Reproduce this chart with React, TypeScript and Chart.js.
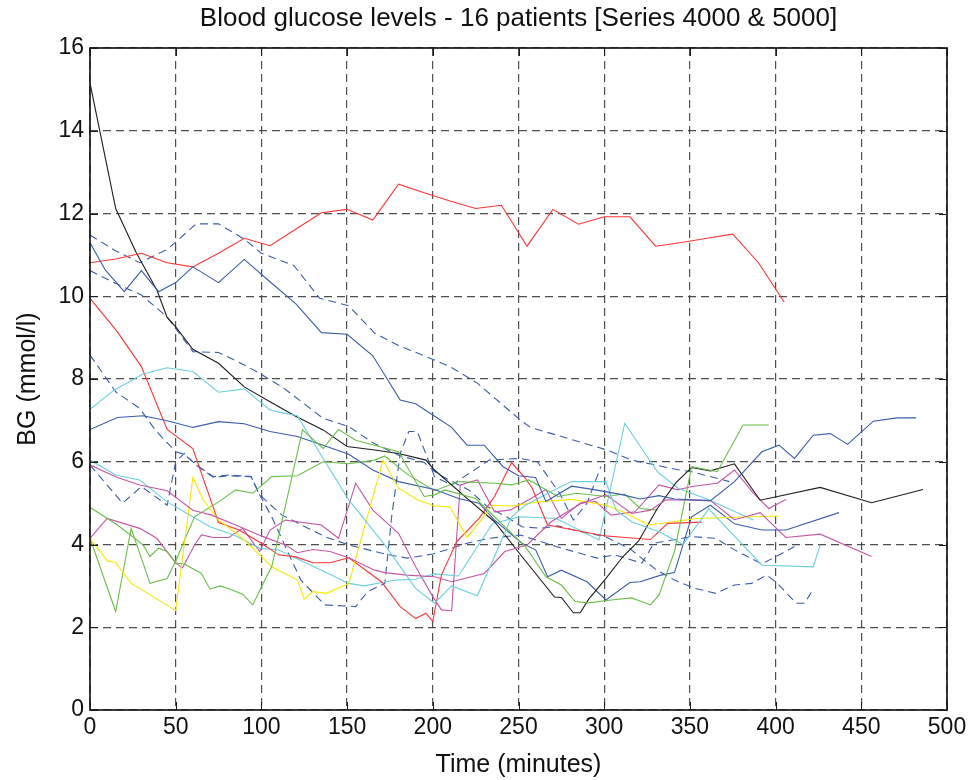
import React, { useEffect, useRef } from "react";
import { Chart, registerables } from "chart.js";

Chart.register(...registerables);

const TITLE = "Blood glucose levels - 16 patients [Series 4000 & 5000]";
const X_LABEL = "Time (minutes)";
const Y_LABEL = "BG (mmol/l)";
const X_TICKS = [0, 50, 100, 150, 200, 250, 300, 350, 400, 450, 500];
const Y_TICKS = [0, 2, 4, 6, 8, 10, 12, 14, 16];

// Patient series (time in minutes, BG in mmol/l)
const r1T = [0, 15, 30, 45, 60, 75, 90, 105, 120, 135, 150, 165, 180, 195, 210, 225, 240, 255, 270, 285, 300, 315, 330, 345, 360, 375, 390, 405];
const r1V = [10.81, 10.9, 11.04, 10.81, 10.71, 11.04, 11.4, 11.22, 11.62, 12.02, 12.1, 11.84, 12.71, 12.5, 12.3, 12.12, 12.2, 11.21, 12.1, 11.74, 11.92, 11.92, 11.21, 11.3, 11.4, 11.5, 10.81, 9.86];

const kT = [0, 15, 27, 39, 45, 50, 60, 75, 90, 105, 120, 136, 150, 165, 180, 196, 201, 221, 236, 252, 271, 275, 282, 286, 291, 301, 311, 320, 331, 342, 351, 362, 376, 391, 426, 456, 486];
const kV = [15.15, 12.12, 11.05, 10.15, 9.49, 9.26, 8.72, 8.38, 7.81, 7.45, 7.1, 6.77, 6.37, 6.29, 6.2, 6.04, 5.8, 5.08, 4.55, 3.71, 2.73, 2.72, 2.35, 2.35, 2.68, 3.18, 3.71, 4.08, 4.87, 5.5, 5.86, 5.78, 5.95, 5.07, 5.38, 5.01, 5.33];

const b1T = [0, 9, 20, 30, 40, 50, 60, 75, 90, 105, 120, 135, 150, 165, 181, 190, 200, 211, 220, 230, 241, 250, 260, 266, 281, 295, 311, 321, 332, 341, 362, 376, 392, 402, 411, 422, 432, 442, 457, 471, 482];
const b1V = [11.29, 10.63, 10.11, 10.62, 10.11, 10.33, 10.71, 10.33, 10.89, 10.35, 9.82, 9.12, 9.08, 8.56, 7.49, 7.4, 7.13, 6.83, 6.4, 6.4, 5.88, 5.66, 5.62, 5.04, 5.41, 5.32, 5.2, 5.1, 5.18, 5.1, 5.06, 5.52, 6.24, 6.4, 6.08, 6.64, 6.68, 6.42, 6.98, 7.06, 7.06];

const b2T = [0, 16, 31, 45, 60, 75, 90, 105, 121, 136, 151, 165, 180, 201, 215, 227, 236, 252, 260, 267, 275, 290, 301, 315, 321, 333, 341, 351, 362, 376, 392, 406, 437];
const b2V = [6.78, 7.07, 7.11, 6.99, 6.83, 6.97, 6.92, 6.73, 6.61, 6.4, 6.18, 5.8, 5.52, 5.33, 5.11, 5.0, 4.59, 4.03, 3.87, 3.22, 3.38, 3.1, 2.66, 3.08, 3.1, 3.26, 3.32, 4.67, 4.95, 4.5, 4.35, 4.35, 4.77];

const d1T = [0, 14, 29, 45, 62, 75, 90, 100, 119, 134, 151, 166, 180, 195, 210, 226, 251, 257, 302, 316, 344, 351, 373];
const d1V = [11.48, 11.12, 10.81, 11.13, 11.75, 11.75, 11.38, 11.04, 10.74, 9.95, 9.77, 9.11, 8.81, 8.56, 8.3, 7.9, 7.01, 6.83, 6.28, 6.04, 5.8, 5.76, 5.52];

const d2T = [0, 17, 30, 45, 60, 75, 90, 99, 114, 136, 151, 165, 180, 195, 203, 221, 232, 243, 252, 263, 273, 287, 300, 315, 330, 341, 353, 365, 376, 386, 395, 401, 412, 417, 421];
const d2V = [10.62, 10.27, 10.03, 9.5, 8.66, 8.64, 8.34, 8.14, 7.75, 7.05, 6.85, 6.46, 6.16, 5.98, 5.7, 5.32, 4.91, 4.67, 4.43, 4.39, 4.45, 4.3, 4.2, 3.9, 3.4, 3.14, 2.94, 2.82, 3.02, 3.06, 3.26, 3.06, 2.58, 2.58, 2.86];

const d3T = [0, 15, 29, 38, 50, 55, 62, 72, 81, 94, 99, 106, 123, 137, 155, 162, 172, 176, 181, 186, 191, 201, 211, 233, 251, 261, 274, 282, 290, 298];
const d3V = [8.58, 7.69, 7.29, 6.77, 6.24, 6.18, 5.92, 5.62, 5.66, 5.64, 5.2, 4.67, 3.14, 2.54, 2.5, 2.86, 3.06, 4.67, 6.2, 6.73, 6.73, 5.64, 5.44, 6.04, 6.08, 6.0, 5.24, 4.59, 5.0, 5.88];

const d4T = [0, 19, 30, 45, 50, 55, 62, 72, 81, 94, 98, 101, 112, 137, 151, 172, 185, 200, 220, 233, 251, 272, 296, 306, 322, 329, 351, 365, 376, 392, 403, 411];
const d4V = [5.92, 5.0, 5.4, 4.95, 6.0, 6.2, 5.92, 5.64, 5.68, 5.64, 5.28, 5.12, 4.71, 4.19, 3.99, 3.77, 3.67, 3.77, 4.03, 4.15, 4.23, 3.95, 3.67, 3.75, 3.55, 4.03, 4.19, 4.15, 3.87, 3.53, 3.77, 3.95];

const r2T = [0, 16, 30, 45, 60, 75, 87, 100, 110, 120, 130, 140, 151, 170, 181, 190, 196, 200, 205, 214, 227, 236, 246, 254, 258, 267, 300, 327, 337, 357];
const r2V = [9.95, 9.14, 8.3, 6.78, 6.32, 4.53, 4.35, 4.03, 3.75, 3.7, 3.56, 3.56, 3.68, 3.1, 2.5, 2.21, 2.34, 2.14, 3.26, 4.07, 4.63, 5.16, 5.98, 5.6, 5.36, 4.47, 4.21, 4.12, 4.51, 4.54];

const c1T = [0, 14, 31, 45, 60, 75, 90, 105, 114, 121, 136, 151, 172, 190, 201, 211, 226, 236, 246, 254, 270, 281, 301, 307, 316, 332, 346, 361, 392, 422, 426];
const c1V = [7.27, 7.73, 8.12, 8.27, 8.18, 7.68, 7.76, 7.25, 7.17, 7.11, 6.08, 5.08, 3.99, 2.94, 2.58, 3.0, 2.76, 3.71, 4.67, 4.95, 5.3, 5.52, 5.52, 4.83, 4.55, 4.31, 4.0, 4.86, 3.5, 3.46, 3.99];

const c2T = [0, 15, 29, 45, 60, 70, 84, 99, 110, 122, 135, 151, 160, 178, 190, 201, 215, 226, 235, 251, 272, 297, 312, 331, 343, 361, 387];
const c2V = [6.04, 5.68, 5.56, 5.03, 4.67, 4.43, 4.23, 3.91, 3.87, 3.63, 3.38, 3.06, 3.0, 3.14, 3.16, 3.29, 3.24, 3.95, 4.51, 4.67, 4.63, 4.11, 6.93, 5.76, 5.36, 5.08, 4.59];

const m1T = [0, 16, 29, 45, 60, 71, 85, 101, 114, 121, 130, 140, 151, 166, 172, 185, 201, 211, 230, 242, 255, 269, 280, 287, 301, 316, 327, 336, 362, 376, 391, 406, 426, 456];
const m1V = [5.92, 5.62, 5.44, 5.3, 4.83, 4.71, 4.47, 4.19, 3.99, 3.8, 3.88, 3.83, 3.68, 3.38, 3.32, 3.26, 3.22, 3.1, 3.3, 3.83, 3.99, 4.55, 4.83, 5.0, 5.2, 4.75, 4.83, 5.08, 5.06, 4.6, 4.77, 4.17, 4.25, 3.71];

const m2T = [0, 10, 29, 39, 50, 54, 61, 65, 72, 81, 89, 99, 105, 114, 135, 145, 155, 165, 180, 190, 200, 205, 211, 216, 226, 236, 245, 256, 266, 275, 286, 295, 304, 318, 332, 343, 351, 366, 376, 387, 396, 406];
const m2V = [4.15, 4.63, 4.39, 4.15, 3.55, 3.44, 3.99, 4.23, 4.17, 4.17, 4.39, 3.83, 4.35, 4.59, 4.47, 4.15, 5.48, 4.83, 4.27, 3.46, 2.74, 2.42, 2.4, 5.44, 5.56, 4.79, 4.83, 5.08, 5.33, 4.63, 5.0, 5.04, 4.71, 4.79, 5.44, 5.32, 5.4, 5.48, 5.8, 5.24, 4.87, 5.09];

const g1T = [0, 16, 26, 31, 35, 40, 45, 50, 55, 65, 70, 76, 83, 89, 95, 102, 106, 124, 136, 145, 155, 166, 180, 195, 201, 207, 225, 254, 266, 275, 283, 291, 304, 316, 327, 332, 341, 351, 366, 381, 396];
const g1V = [4.9, 4.47, 4.15, 3.99, 3.71, 3.91, 3.83, 3.55, 3.53, 3.3, 2.92, 3.0, 2.9, 2.8, 2.54, 3.14, 3.46, 6.77, 6.32, 6.78, 6.52, 6.4, 6.24, 5.16, 5.2, 5.32, 5.11, 3.95, 3.22, 3.02, 2.62, 2.59, 2.66, 2.71, 2.54, 2.78, 3.83, 5.88, 5.76, 6.89, 6.89];

const g2T = [0, 15, 24, 35, 45, 50, 61, 75, 85, 95, 106, 121, 136, 151, 166, 172, 185, 201, 215, 236, 246, 256, 273, 284, 301, 312, 321, 331];
const g2V = [4.15, 2.38, 4.39, 3.06, 3.18, 3.6, 4.67, 5.03, 5.32, 5.24, 5.64, 5.66, 6.0, 5.95, 6.04, 6.14, 5.7, 5.3, 5.52, 5.48, 5.44, 5.56, 5.16, 5.24, 5.16, 5.22, 4.87, 4.83];

const y1T = [0, 10, 15, 24, 29, 50, 60, 66, 75, 83, 92, 102, 106, 121, 125, 130, 138, 151, 171, 180, 191, 201, 210, 220, 235, 246, 262, 281, 301, 311, 326, 354, 402];
const y1V = [4.15, 3.61, 3.56, 3.06, 2.94, 2.4, 5.62, 5.08, 4.59, 4.35, 4.03, 3.63, 3.46, 3.14, 2.68, 2.86, 2.82, 3.06, 6.04, 5.36, 5.08, 4.93, 4.91, 4.17, 4.95, 4.93, 5.03, 5.09, 4.95, 4.79, 4.47, 4.63, 4.69];

const BLUE = "#3a5dab";
const GREEN = "#6abf48";
const RED = "#ff3434";
const CYAN = "#6ccfe0";
const MAGENTA = "#c656a6";
const YELLOW = "#f8e800";
const BLACK = "#1e1e1e";

const SERIES: { t: number[]; v: number[]; color: string; dashed: boolean }[] = [
  { t: b1T, v: b1V, color: BLUE, dashed: false },
  { t: g1T, v: g1V, color: GREEN, dashed: false },
  { t: r1T, v: r1V, color: RED, dashed: false },
  { t: c1T, v: c1V, color: CYAN, dashed: false },
  { t: m1T, v: m1V, color: MAGENTA, dashed: false },
  { t: y1T, v: y1V, color: YELLOW, dashed: false },
  { t: kT, v: kV, color: BLACK, dashed: false },
  { t: b2T, v: b2V, color: BLUE, dashed: false },
  { t: g2T, v: g2V, color: GREEN, dashed: false },
  { t: r2T, v: r2V, color: RED, dashed: false },
  { t: c2T, v: c2V, color: CYAN, dashed: false },
  { t: m2T, v: m2V, color: MAGENTA, dashed: false },
  { t: d1T, v: d1V, color: BLUE, dashed: true },
  { t: d2T, v: d2V, color: BLUE, dashed: true },
  { t: d3T, v: d3V, color: BLUE, dashed: true },
  { t: d4T, v: d4V, color: BLUE, dashed: true },
];

const FONT = "'Liberation Sans', Arial, Helvetica, sans-serif";
const GRID_COLOR = "rgba(60,60,60,0.9)";

const boxPlugin = {
  id: "matlabBox",
  afterDraw(chart: any) {
    const { ctx, chartArea: a, scales } = chart;
    ctx.save();
    ctx.setLineDash([]);
    ctx.strokeStyle = "#1a1a1a";
    ctx.lineWidth = 1;
    const L = 8;
    ctx.beginPath();
    for (const v of X_TICKS) {
      const px = Math.round(scales.x.getPixelForValue(v)) + 0.5;
      ctx.moveTo(px, a.bottom);
      ctx.lineTo(px, a.bottom - L);
      ctx.moveTo(px, a.top);
      ctx.lineTo(px, a.top + L);
    }
    for (const v of Y_TICKS) {
      const py = Math.round(scales.y.getPixelForValue(v)) + 0.5;
      ctx.moveTo(a.left, py);
      ctx.lineTo(a.left + L, py);
      ctx.moveTo(a.right, py);
      ctx.lineTo(a.right - L, py);
    }
    ctx.stroke();
    ctx.lineWidth = 1.7;
    ctx.strokeRect(a.left, a.top, a.right - a.left, a.bottom - a.top);
    ctx.restore();
  },
};

export default function App() {
  const ref = useRef<HTMLCanvasElement | null>(null);

  useEffect(() => {
    document.body.style.margin = "0";
    document.body.style.overflow = "hidden";
    const canvas = ref.current;
    if (!canvas) return;
    const datasets = SERIES.map((s) => ({
      data: s.t.map((t, i) => ({ x: t, y: s.v[i] })),
      borderColor: s.color,
      backgroundColor: s.color,
      borderWidth: 1.1,
      borderDash: s.dashed ? [8, 5] : [],
      pointRadius: 0,
      tension: 0,
      fill: false,
    }));
    const chart = new Chart(canvas, {
      type: "line",
      data: { datasets },
      options: {
        responsive: false,
        animation: false,
        devicePixelRatio: 1,
        layout: { padding: { left: 0, right: 30, top: 0, bottom: 0 } },
        plugins: {
          legend: { display: false },
          tooltip: { enabled: false },
          title: {
            display: true,
            fullSize: false,
            text: TITLE,
            color: "#111",
            font: { family: FONT, size: 26, weight: "normal", lineHeight: 1.2 },
            padding: { top: 3, bottom: 13.8 },
          },
        },
        scales: {
          x: {
            type: "linear",
            min: 0,
            max: 500,
            afterBuildTicks: (scale: any) => {
              scale.ticks = X_TICKS.map((v) => ({ value: v }));
            },
            afterFit: (scale: any) => {
              scale.height = 70;
            },
            ticks: {
              color: "#111",
              font: { family: FONT, size: 23 },
              padding: 4,
              maxRotation: 0,
              autoSkip: false,
            },
            grid: { color: GRID_COLOR, lineWidth: 1.2, drawTicks: false },
            border: { display: false, dash: [8, 5] },
            title: {
              display: true,
              text: X_LABEL,
              color: "#111",
              font: { family: FONT, size: 25, lineHeight: 1.2 },
              padding: { top: 0, bottom: 0 },
            },
          },
          y: {
            type: "linear",
            min: 0,
            max: 16,
            afterBuildTicks: (scale: any) => {
              scale.ticks = Y_TICKS.map((v) => ({ value: v }));
            },
            afterFit: (scale: any) => {
              scale.width = 90;
            },
            ticks: {
              color: "#111",
              font: { family: FONT, size: 23 },
              padding: 6,
              autoSkip: false,
            },
            grid: { color: GRID_COLOR, lineWidth: 1.2, drawTicks: false },
            border: { display: false, dash: [8, 5] },
            title: {
              display: true,
              text: Y_LABEL,
              color: "#111",
              font: { family: FONT, size: 25, lineHeight: 1.2 },
              padding: { top: 13, bottom: 0 },
            },
          },
        },
      },
      plugins: [boxPlugin],
    });
    return () => chart.destroy();
  }, []);

  return (
    <div style={{ width: 977, height: 780 }}>
      <canvas ref={ref} width={977} height={780} style={{ display: "block" }} />
    </div>
  );
}
